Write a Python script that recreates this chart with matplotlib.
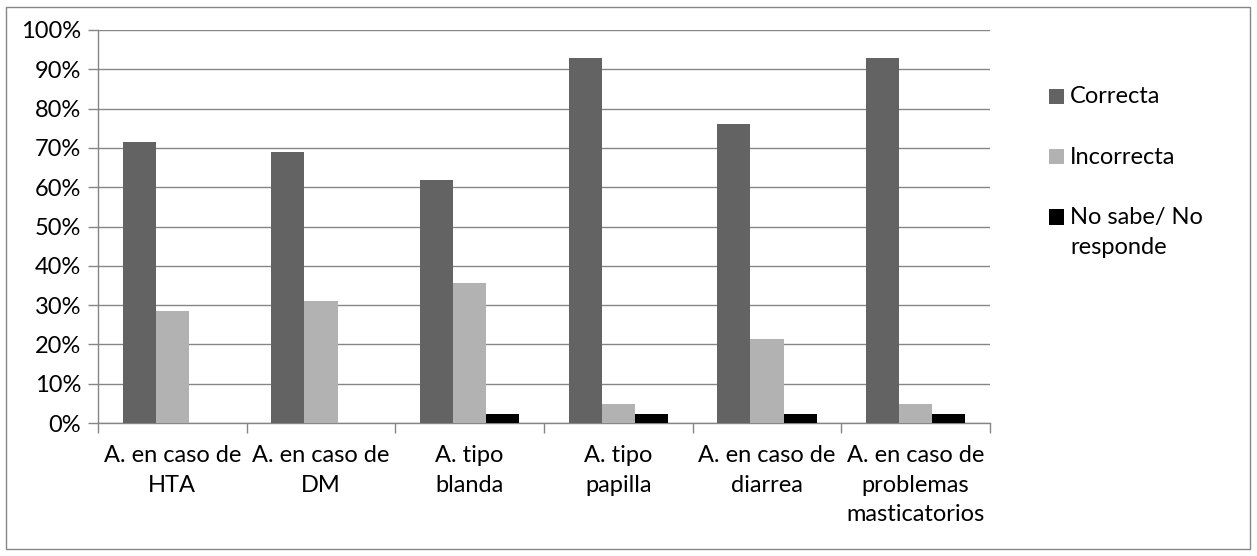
import matplotlib
matplotlib.use("Agg")
import matplotlib.pyplot as plt
import numpy as np
from matplotlib.patches import Rectangle

categories = ["A. en caso de\nHTA", "A. en caso de\nDM", "A. tipo\nblanda",
              "A. tipo\npapilla", "A. en caso de\ndiarrea",
              "A. en caso de\nproblemas\nmasticatorios"]
series_names = ["Correcta", "Incorrecta", "No sabe/ No\nresponde"]
correcta = [71.4, 69.0, 61.9, 92.9, 76.2, 92.9]
incorrecta = [28.6, 31.0, 35.7, 4.8, 21.4, 4.8]
no_sabe = [0.0, 0.0, 2.4, 2.4, 2.4, 2.4]
colors = ["#636363", "#b2b2b2", "#000000"]
yticks = [0, 10, 20, 30, 40, 50, 60, 70, 80, 90, 100]

plt.rcParams['font.family'] = ['Lato', 'DejaVu Sans']
FS = 17
LS = 1.5

W, H = 1257, 556
fig = plt.figure(figsize=(W / 100, H / 100), dpi=100)
ax = fig.add_axes([98 / W, 1 - 423 / H, (990 - 98) / W, (423 - 30) / H])

x = np.arange(len(categories))
bw = 0.222
for i, (vals, name, c) in enumerate(zip([correcta, incorrecta, no_sabe], series_names, colors)):
    ax.bar(x + (i - 1) * bw, vals, width=bw, color=c, label=name, zorder=3)

ax.set_xlim(-0.5, len(categories) - 0.5)
ax.set_ylim(0, 100)
ax.set_yticks(yticks)
ax.set_yticklabels([f"{v}%" for v in yticks], fontsize=FS)
ax.yaxis.grid(True, color="#868686", linewidth=1, zorder=0)
ax.set_xticks(x)
ax.set_xticklabels(categories, fontsize=FS, linespacing=LS)
ax.set_xticks(np.arange(-0.5, len(categories), 1), minor=True)
ax.tick_params(axis='x', which='major', length=0, pad=16)
ax.tick_params(axis='x', which='minor', length=7, color="#868686", width=1)
ax.tick_params(axis='y', length=7, color="#868686", width=1, pad=5)
for s in ["top", "right"]:
    ax.spines[s].set_visible(False)
for s in ["left", "bottom"]:
    ax.spines[s].set_color("#868686")
    ax.spines[s].set_linewidth(1)

# legend (drawn manually so the square aligns with the first text line)
sq = 15
y0, dy = 96, 60.5
for k, (name, c) in enumerate(zip(series_names, colors)):
    yc = y0 + k * dy
    fig.patches.append(Rectangle((1049 / W, 1 - (yc + sq / 2) / H), sq / W, sq / H,
                                 transform=fig.transFigure, facecolor=c,
                                 edgecolor='none'))
    fig.text(1070 / W, 1 - (yc - 10) / H, name, fontsize=FS, va='top', ha='left',
             linespacing=LS)

fig.patches.append(Rectangle((6 / W, 1 - 549 / H), (1250 - 6) / W, (549 - 7) / H,
                             transform=fig.transFigure, fill=False,
                             edgecolor="#868686", linewidth=1))

fig.savefig("out.png", dpi=100, facecolor="white")
